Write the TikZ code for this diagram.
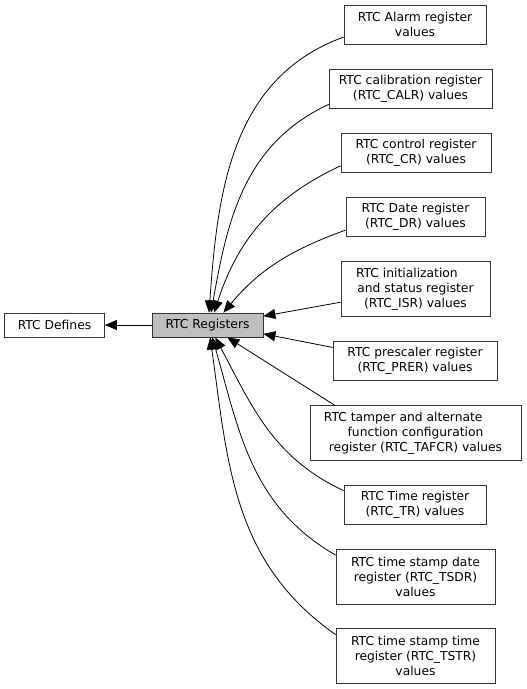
\documentclass[tikz,border=0pt]{standalone}
\usepackage{fontspec}
\setmainfont{DejaVu Sans}
\usetikzlibrary{arrows.meta}
\tikzset{
  grpbox/.style={draw=black!80, line width=0.8pt, fill=white, align=center, inner sep=0pt},
  curgrp/.style={grpbox, fill=black!25},
  dep/.style={line width=0.8pt, ->}
}
\begin{document}
\begin{tikzpicture}[x=1pt,y=1pt,font=\fontsize{12.3}{15}\selectfont,>={Triangle[length=12pt,width=10pt]}]
    \useasboundingbox (0,0) rectangle (527,-689);
    % left side
    \node[grpbox, minimum width=100pt, minimum height=24pt] (defines) at (54.5,-325) {RTC Defines};
    \node[curgrp, minimum width=111pt, minimum height=24pt] (registers) at (207.5,-325) {RTC Registers};
    % register groups
    \node[grpbox, minimum width=142pt, minimum height=39pt] (alarm) at (415,-24.5) {RTC Alarm register\\values};
    \node[grpbox, minimum width=163pt, minimum height=39pt] (calr) at (410.5,-88.5) {RTC calibration register\\ (RTC\_CALR) values};
    \node[grpbox, minimum width=150pt, minimum height=39pt] (cr) at (416,-152.5) {RTC control register\\ (RTC\_CR) values};
    \node[grpbox, minimum width=139pt, minimum height=39pt] (dr) at (415.5,-216.5) {RTC Date register\\(RTC\_DR) values};
    \node[grpbox, minimum width=149pt, minimum height=55pt] (isr) at (415.5,-289) {RTC initialization\hspace*{1.4em}\\ and status register\\ (RTC\_ISR) values};
    \node[grpbox, minimum width=164pt, minimum height=39pt] (prer) at (415,-360.5) {RTC prescaler register\\ (RTC\_PRER) values};
    \node[grpbox, minimum width=211pt, minimum height=55pt] (tafcr) at (415.5,-433) {RTC tamper and alternate\hspace*{2em}\\ function configuration\hspace*{2em}\\ register (RTC\_TAFCR) values};
    \node[grpbox, minimum width=142pt, minimum height=39pt] (tr) at (415,-504.5) {RTC Time register\\(RTC\_TR) values};
    \node[grpbox, minimum width=159pt, minimum height=55pt] (tsdr) at (415.5,-576.5) {RTC time stamp date\\register (RTC\_TSDR)\\values};
    \node[grpbox, minimum width=159pt, minimum height=55pt] (tstr) at (415.5,-656) {RTC time stamp time\\register (RTC\_TSTR)\\values};
    % edges
    \draw[dep] (registers.west) -- (defines.east);
    \draw[dep] (alarm.190) to[out=200,in=86] (registers.83);
    \draw[dep] (calr.191) to[out=205,in=80] (registers.74);
    \draw[dep] (cr.190) to[out=205,in=72] (registers.62);
    \draw[dep] (dr.191) to[out=200,in=50] (registers.38);
    \draw[dep] (isr.190) -- (registers.9);
    \draw[dep] (prer.171) -- (registers.-9);
    \draw[dep] (tafcr.161) -- (registers.-32);
    \draw[dep] (tr.169) to[out=155,in=-62] (registers.-58);
    \draw[dep] (tsdr.165) to[out=150,in=-74] (registers.-69);
    \draw[dep] (tstr.165) to[out=145,in=-82] (registers.-78);
\end{tikzpicture}
\end{document}
